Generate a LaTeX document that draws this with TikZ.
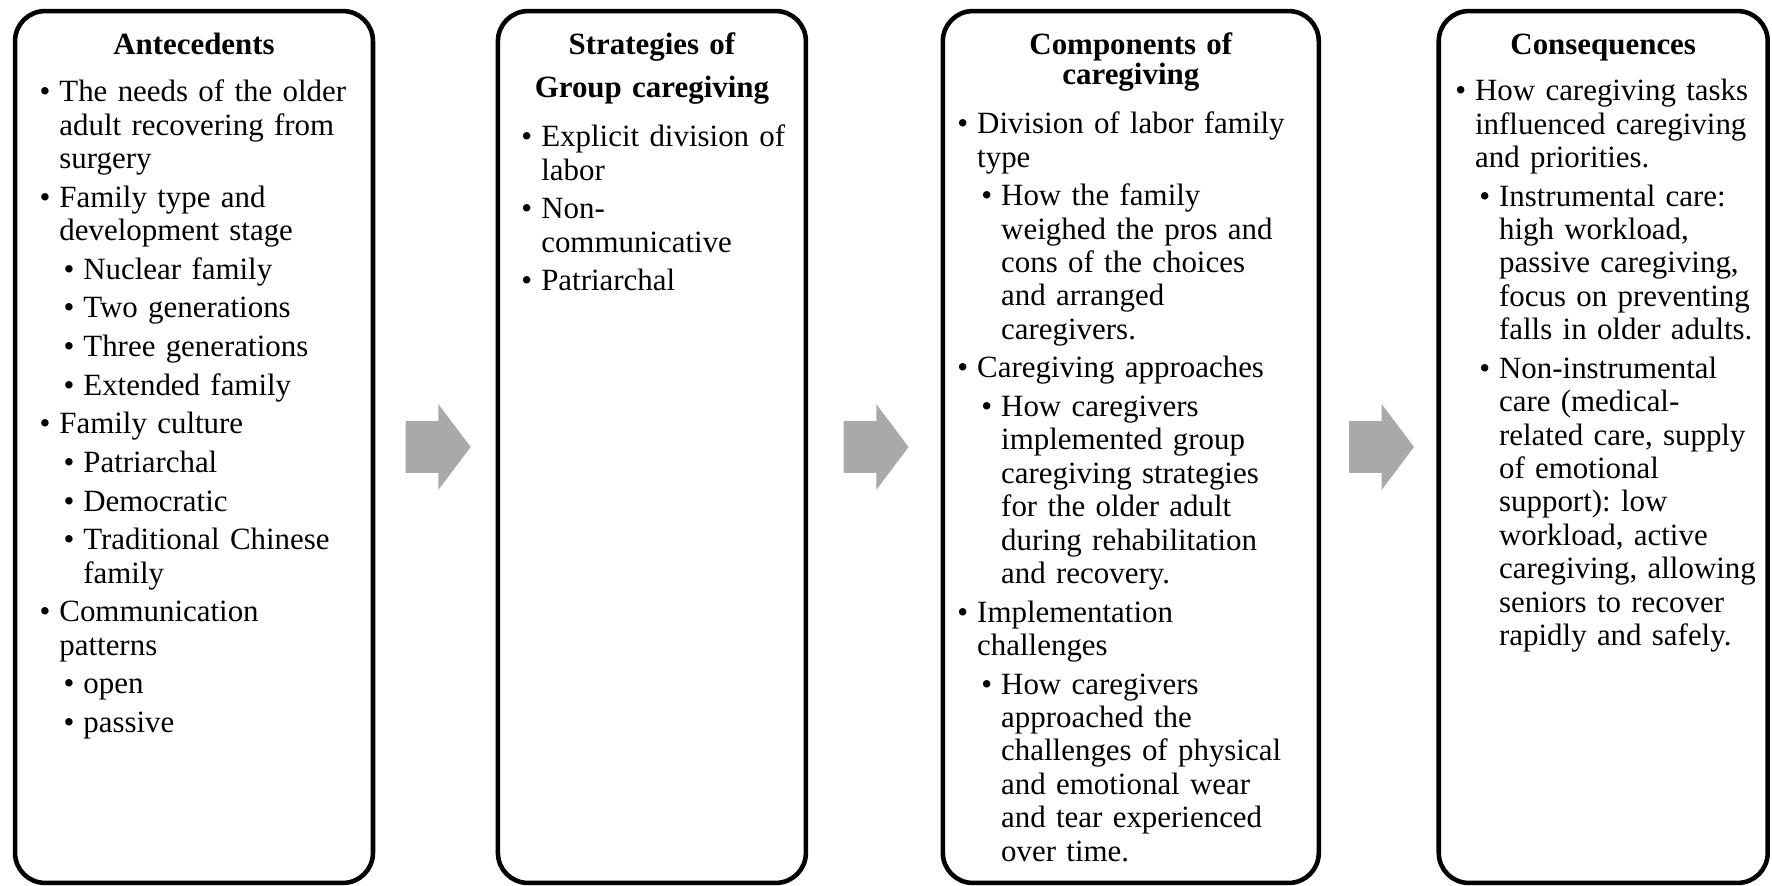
\documentclass[tikz,border=0pt]{standalone}
\usepackage{fontspec}
\setmainfont{Liberation Serif}
\usepackage{enumitem}
\usetikzlibrary{positioning, shapes.arrows, calc}

\definecolor{arrowgray}{RGB}{169,169,169}
\setlist[itemize]{label=\textbullet, nosep, leftmargin=0.48cm, labelsep=0.18cm, itemsep=3pt, topsep=3pt}
\frenchspacing

\tikzset{
  panel/.style={draw, line width=2.6pt, rounded corners=0.6cm, minimum height=17.44cm, outer sep=0pt, inner sep=0pt},
  headtext/.style={font=\fontsize{17.6pt}{19pt}\selectfont\bfseries, align=center, inner sep=0pt},
  listtext/.style={font=\fontsize{17.6pt}{19pt}\selectfont, align=left, inner sep=0pt},
  flowarrow/.style={single arrow, fill=arrowgray, minimum height=1.3cm, minimum width=1.7cm,
    inner xsep=0pt, inner ysep=0.51cm, single arrow head extend=0.34cm, single arrow tip angle=106, outer sep=0pt}
}

\begin{document}
\begin{tikzpicture}[x=0.02cm, y=-0.02cm]
  \useasboundingbox (0,0) rectangle (1772,886);

  % the four panels
  \node[panel, minimum width=7.16cm] (box1) at (194,447) {};
  \node[panel, minimum width=6.16cm, right=2.5cm of box1] (box2) {};
  \node[panel, minimum width=7.52cm, right=2.74cm of box2] (box3) {};
  \node[panel, minimum width=6.58cm, right=2.4cm of box3] (box4) {};

  % block arrows between the panels
  \node[flowarrow, xshift=-0.14cm] (arr1) at ($(box1.east)!0.5!(box2.west)$) {};
  \node[flowarrow, xshift=-0.16cm] (arr2) at ($(box2.east)!0.5!(box3.west)$) {};
  \node[flowarrow, xshift=-0.14cm] (arr3) at ($(box3.east)!0.5!(box4.west)$) {};

  % headings
  \node[headtext, text width=6.6cm, anchor=base] (head1) at ([yshift=-0.86cm]box1.north) {Antecedents};
  \node[headtext, text width=5.8cm, anchor=base] (head2) at ([yshift=-0.86cm]box2.north) {Strategies of\\[0.2cm]Group caregiving};
  \node[headtext, text width=7cm, anchor=base] (head3) at ([yshift=-0.86cm]box3.north) {Components of\\[-0.05cm]caregiving};
  \node[headtext, text width=6.2cm, anchor=base] (head4) at ([yshift=-0.86cm]box4.north) {Consequences};

  % contents
  \node[listtext, text width=6.6cm, anchor=base west] (list1) at ([shift={(20,52)}]box1.north west) {%
    \begin{itemize}
      \item The needs of the older\newline adult recovering from\newline surgery
      \item Family type and\newline development stage
      \begin{itemize}
        \item Nuclear family
        \item Two generations
        \item Three generations
        \item Extended family
      \end{itemize}
      \item Family culture
      \begin{itemize}
        \item Patriarchal
        \item Democratic
        \item Traditional Chinese\newline family
      \end{itemize}
      \item Communication\newline patterns
      \begin{itemize}
        \item open
        \item passive
      \end{itemize}
    \end{itemize}};
  \node[listtext, text width=5.7cm, anchor=base west] (list2) at ([shift={(19,97)}]box2.north west) {%
    \begin{itemize}
      \item Explicit division of\newline labor
      \item Non-\newline communicative
      \item Patriarchal
    \end{itemize}};
  \node[listtext, text width=7.3cm, anchor=base west] (list3) at ([shift={(10,84)}]box3.north west) {%
    \begin{itemize}
      \item Division of labor family\newline type
      \begin{itemize}
        \item How the family\newline weighed the pros and\newline cons of the choices\newline and arranged\newline caregivers.
      \end{itemize}
      \item Caregiving approaches
      \begin{itemize}
        \item How caregivers\newline implemented group\newline caregiving strategies\newline for the older adult\newline during rehabilitation\newline and recovery.
      \end{itemize}
      \item Implementation\newline challenges
      \begin{itemize}
        \item How caregivers\newline approached the\newline challenges of physical\newline and emotional wear\newline and tear experienced\newline over time.
      \end{itemize}
    \end{itemize}};
  \node[listtext, text width=6.3cm, anchor=base west] (list4) at ([shift={(12,51)}]box4.north west) {%
    \begin{itemize}
      \item How caregiving tasks\newline influenced caregiving\newline and priorities.
      \begin{itemize}
        \item Instrumental care:\newline high workload,\newline passive caregiving,\newline focus on preventing\newline falls in older adults.
        \item Non-instrumental\newline care (medical-\newline related care, supply\newline of emotional\newline support): low\newline workload, active\newline caregiving, allowing\newline seniors to recover\newline rapidly and safely.
      \end{itemize}
    \end{itemize}};
\end{tikzpicture}
\end{document}
